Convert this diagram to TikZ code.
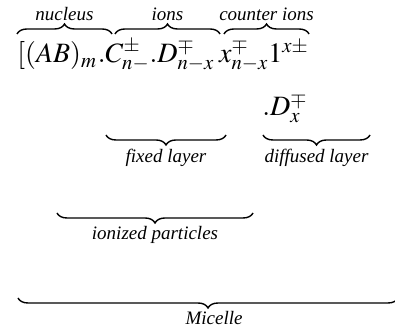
\documentclass[tikz,border=0pt]{standalone}
\usepackage{mathptmx}
\usepackage{fontspec}
\setmainfont{Liberation Serif}
\usetikzlibrary{decorations.pathreplacing, positioning}

\begin{document}
\begin{tikzpicture}[x=0.5pt, y=0.5pt,
        lbl/.style={font=\fontsize{9.5}{11}\selectfont\itshape, inner sep=1pt},
        frm/.style={font=\fontsize{14}{16}\selectfont, inner sep=0pt, anchor=base west},
        brc/.style={decorate, decoration={brace, amplitude=5pt}, line width=0.7pt}]
        \useasboundingbox (0,0) rectangle (395,330);
        % formula
        \node[frm] (nuc) at (17,267) {$[(AB)_m$};
        \node[frm] (ion) at (nuc.base east) {$.C^{\pm}_{n-}.D^{\mp}_{n-x}$};
        \node[frm] (cnt) at ([xshift=2pt]ion.base east) {$x^{\mp}_{n-x}1^{x\pm}$};
        \node[frm] (dx) at (262,214) {$.D^{\mp}_{x}$};
        \coordinate (up) at (0,296);
        % upper braces
        \draw[brc] (nuc.west |- up) -- node[lbl, above=5.5pt] (nucl) {nucleus} (112,296);
        \draw[brc] (115,296) -- node[lbl, above=5.5pt] (ionl) {ions} (220,296);
        \draw[brc] (224,296) -- node[lbl, above=5.5pt] (cntl) {counter ions} (cnt.east |- up);
        % lower braces
        \draw[brc] (226,195) -- node[lbl, below=5.5pt] (fixl) {fixed layer} (106,195);
        \draw[brc] (370,195) -- node[lbl, below=5.5pt] (difl) {diffused layer} (263,195);
        \draw[brc] (253,117) -- node[lbl, below=5.5pt] (ionp) {ionized particles} (57,117);
        \draw[brc] (398,32) -- node[lbl, below=5.5pt, xshift=3pt] (mic) {Micelle} (18,32);
    \end{tikzpicture}
\end{document}
